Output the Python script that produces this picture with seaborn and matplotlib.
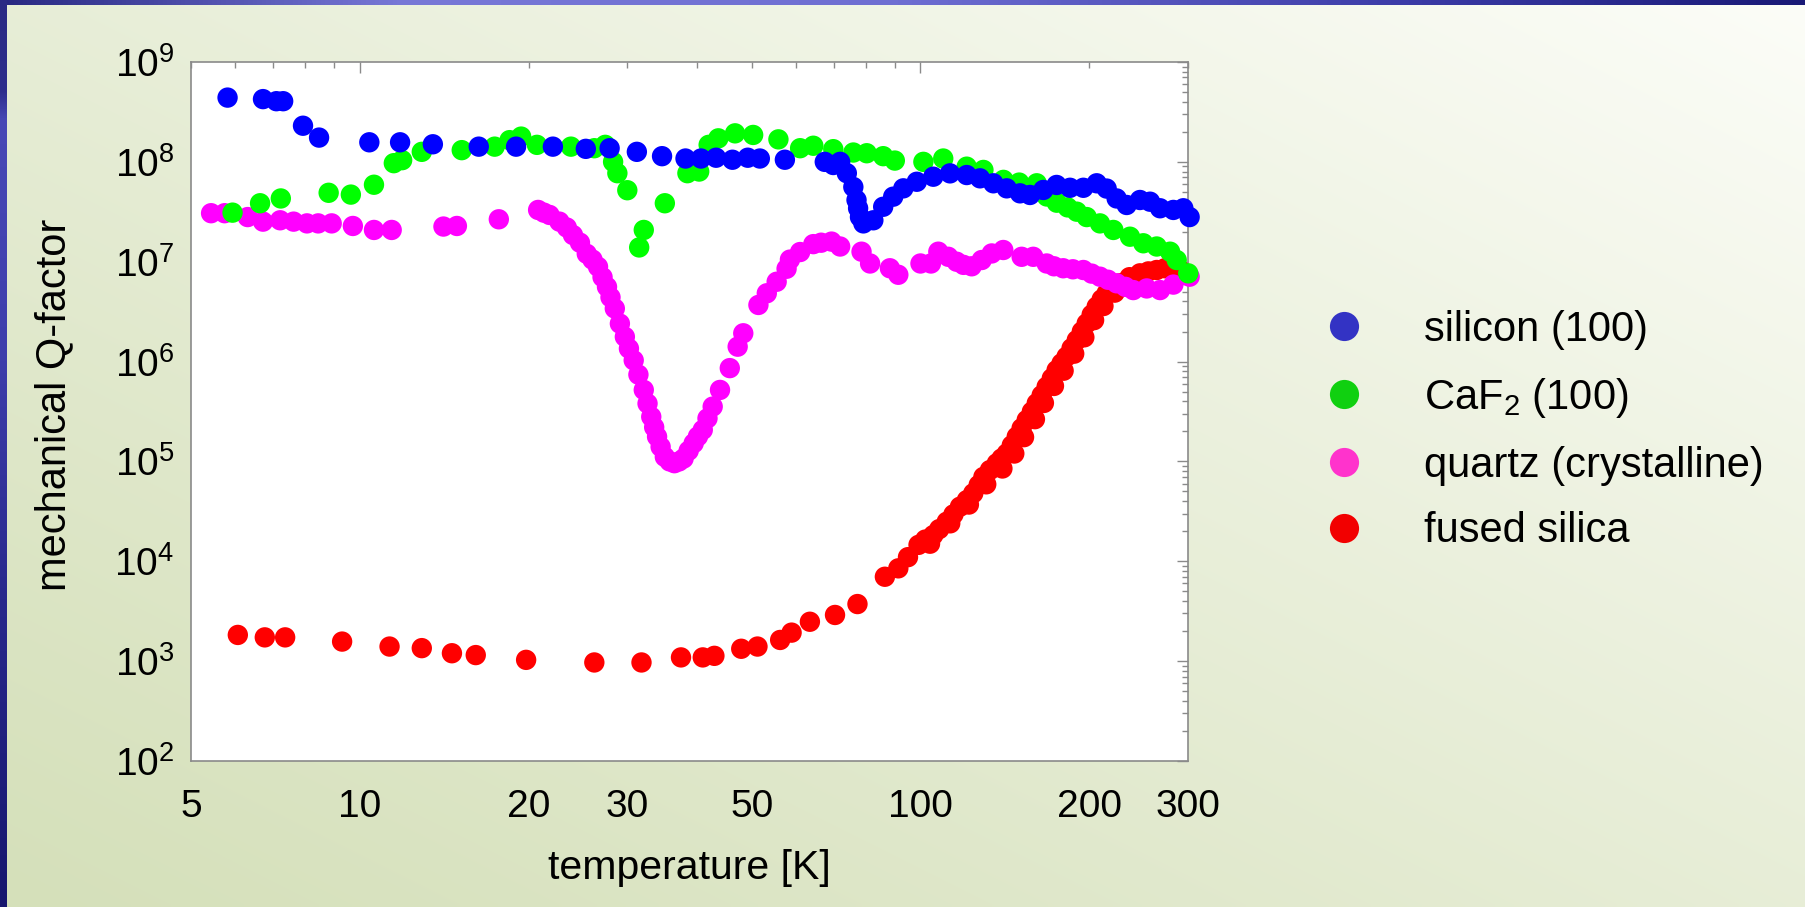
import numpy as np
import pandas as pd
import matplotlib
matplotlib.use("Agg")
import matplotlib.pyplot as plt
import seaborn as sns
from matplotlib.lines import Line2D
from matplotlib.ticker import LogLocator, FuncFormatter, NullFormatter

# ---------------------------------------------------------------------------
# Mechanical Q-factor versus temperature for four test-mass materials
# ---------------------------------------------------------------------------
materials = ["silicon (100)", r"CaF$_\mathdefault{2}$ (100)",
             "quartz (crystalline)", "fused silica"]

silicon_T = [5.81, 6.72, 7.10, 7.30, 7.92, 8.46, 10.4, 11.8, 13.5, 16.3, 19.0,
             22.1, 25.3, 27.9, 31.2, 34.6, 38.1, 40.6, 43.2, 46.2, 49.2, 51.7,
             57.3, 67.5, 69.9, 71.9, 73.9, 75.9, 76.9, 77.4, 78.0, 79.1, 82.4,
             85.8, 89.4, 93.2, 98.5, 105.4, 112.9, 120.9, 127.7, 134.9, 142.5,
             150.5, 156.8, 165.6, 174.9, 184.8, 195.2, 206.2, 214.8, 223.8,
             233.2, 246.3, 256.7, 267.5, 282.5, 294.3, 302.0]
silicon_Q = [4.4e8, 4.25e8, 4.05e8, 4.05e8, 2.3e8, 1.75e8, 1.57e8, 1.57e8,
             1.5e8, 1.42e8, 1.42e8, 1.42e8, 1.35e8, 1.37e8, 1.26e8, 1.14e8,
             1.08e8, 1.08e8, 1.10e8, 1.05e8, 1.10e8, 1.08e8, 1.05e8, 1.0e8,
             9.3e7, 1.0e8, 7.7e7, 5.6e7, 4.15e7, 3.43e7, 2.8e7, 2.42e7, 2.6e7,
             3.55e7, 4.48e7, 5.43e7, 6.32e7, 7.1e7, 7.67e7, 7.38e7, 6.84e7,
             6.1e7, 5.43e7, 4.84e7, 4.66e7, 5.23e7, 5.87e7, 5.5e7, 5.5e7,
             6.1e7, 5.4e7, 4.3e7, 3.7e7, 4.15e7, 3.99e7, 3.43e7, 3.3e7,
             3.43e7, 2.8e7]

caf2_T = [5.93, 6.64, 7.23, 8.80, 9.64, 10.6, 11.5, 11.9, 12.9, 15.2, 17.4,
          18.5, 19.4, 20.7, 23.8, 26.2, 27.4, 28.3, 28.8, 30.0, 31.5, 32.1,
          35.0, 38.4, 40.3, 41.9, 43.6, 46.7, 50.3, 55.8, 61.0, 64.4, 69.9,
          75.9, 80.2, 85.8, 90.0, 101.2, 109.8, 120.9, 129.5, 140.6, 150.0,
          161.2, 168.0, 175.0, 183.0, 190.0, 197.9, 209.0, 220.8, 236.4,
          249.7, 263.8, 278.7, 286.4, 300.3]
caf2_Q = [3.1e7, 3.85e7, 4.3e7, 4.9e7, 4.7e7, 5.9e7, 9.7e7, 1.04e8, 1.26e8,
          1.31e8, 1.42e8, 1.65e8, 1.79e8, 1.48e8, 1.42e8, 1.37e8, 1.48e8,
          1.0e8, 7.7e7, 5.2e7, 1.39e7, 2.08e7, 3.85e7, 7.7e7, 8.0e7, 1.48e8,
          1.72e8, 1.93e8, 1.86e8, 1.68e8, 1.37e8, 1.45e8, 1.34e8, 1.24e8,
          1.22e8, 1.14e8, 1.03e8, 1.0e8, 1.08e8, 8.95e7, 8.3e7, 6.6e7, 6.2e7,
          6.1e7, 4.5e7, 3.9e7, 3.5e7, 3.17e7, 2.8e7, 2.42e7, 2.08e7, 1.78e7,
          1.53e7, 1.42e7, 1.26e7, 1.04e7, 7.65e6]

quartz_T = [5.43, 5.74, 6.31, 6.72, 7.21, 7.62, 8.05, 8.43, 8.91, 9.72, 10.6,
            11.4, 14.1, 14.9, 17.7, 20.8, 21.3, 21.8, 22.7, 23.4, 24.0, 24.7,
            25.4, 26.0, 26.6, 27.1, 27.6, 28.0, 28.5, 29.1, 29.7, 30.2, 30.8,
            31.4, 32.1, 32.6, 33.1, 33.5, 33.9, 34.4, 35.0, 35.7, 36.4, 37.1,
            37.8, 38.6, 39.4, 40.1, 40.9, 41.7, 42.6, 43.9, 45.7, 47.2, 48.3,
            51.4, 53.2, 55.4, 57.7, 58.5, 61.0, 64.4, 66.5, 69.4, 71.9, 78.5,
            81.3, 88.2, 91.3, 100.0, 104.4, 107.6, 112.1, 116.0, 119.3, 123.4,
            128.6, 134.0, 140.5, 151.5, 158.9, 167.9, 173.0, 179.7, 187.0,
            195.2, 202.0, 209.0, 216.0, 223.8, 232.0, 239.6, 253.2, 267.5,
            282.5, 302.0]
quartz_Q = [3.06e7, 3.06e7, 2.8e7, 2.52e7, 2.6e7, 2.52e7, 2.42e7, 2.42e7,
            2.42e7, 2.28e7, 2.08e7, 2.08e7, 2.25e7, 2.28e7, 2.66e7, 3.3e7,
            3.1e7, 2.94e7, 2.52e7, 2.2e7, 1.85e7, 1.55e7, 1.2e7, 1.05e7, 8.9e6,
            7.0e6, 5.6e6, 4.4e6, 3.4e6, 2.4e6, 1.77e6, 1.35e6, 1.03e6, 7.4e5,
            5.2e5, 3.8e5, 2.8e5, 2.2e5, 1.77e5, 1.4e5, 1.11e5, 1.0e5, 9.6e4,
            1.0e5, 1.07e5, 1.28e5, 1.52e5, 1.78e5, 2.07e5, 2.7e5, 3.54e5,
            5.2e5, 8.6e5, 1.41e6, 1.92e6, 3.69e6, 4.83e6, 6.3e6, 8.5e6, 1.05e7,
            1.25e7, 1.5e7, 1.55e7, 1.59e7, 1.42e7, 1.26e7, 9.6e6, 8.6e6, 7.4e6,
            9.6e6, 9.6e6, 1.26e7, 1.12e7, 1.0e7, 9.3e6, 9.0e6, 1.04e7, 1.21e7,
            1.31e7, 1.12e7, 1.12e7, 9.6e6, 9.0e6, 8.6e6, 8.4e6, 8.26e6, 7.6e6,
            7.08e6, 6.6e6, 6.08e6, 5.6e6, 5.2e6, 5.4e6, 5.2e6, 5.9e6, 7.08e6]

# fused silica: main run plus a second, slightly lower run above 100 K
fused_T = [6.06, 6.77, 7.36, 9.30, 11.3, 12.9, 14.6, 16.1, 19.8, 26.2, 31.8,
           37.4, 40.9, 42.9, 47.9, 51.2, 56.2, 58.9, 63.5, 70.4, 77.2, 86.4,
           91.3, 95.0, 99.2, 102.0, 105.4, 108.0, 111.4, 114.5, 117.6, 121.0,
           124.2, 127.0, 129.5, 133.0, 136.8, 139.5, 142.5, 145.5, 148.5,
           151.5, 154.7, 158.0, 161.2, 164.5, 167.9, 171.5, 174.9, 178.5,
           182.2, 186.0, 190.0, 194.0, 197.9, 202.0, 206.2, 210.5, 214.8,
           220.0, 227.0, 236.0, 246.3, 255.0, 263.8, 272.9, 281.0, 290.0,
           104.0, 113.0, 122.0, 131.0, 140.0, 147.0, 153.0, 160.0, 166.0,
           173.0, 180.0, 188.0, 196.0, 204.0, 212.0, 222.0]
fused_Q = [1.83e3, 1.73e3, 1.73e3, 1.57e3, 1.40e3, 1.35e3, 1.20e3, 1.15e3,
           1.03e3, 0.97e3, 0.97e3, 1.09e3, 1.09e3, 1.13e3, 1.33e3, 1.40e3,
           1.63e3, 1.93e3, 2.48e3, 2.9e3, 3.73e3, 7.0e3, 8.5e3, 1.1e4, 1.46e4,
           1.65e4, 1.83e4, 2.1e4, 2.49e4, 2.95e4, 3.52e4, 4.1e4, 4.8e4, 5.8e4,
           7.0e4, 8.2e4, 9.57e4, 1.07e5, 1.2e5, 1.45e5, 1.77e5, 2.15e5, 2.6e5,
           3.15e5, 3.82e5, 4.6e5, 5.6e5, 6.8e5, 8.2e5, 9.6e5, 1.12e6, 1.36e6,
           1.64e6, 2.0e6, 2.41e6, 2.95e6, 3.55e6, 4.2e6, 4.83e6, 5.5e6, 6.08e6,
           7.0e6, 7.65e6, 8.0e6, 8.26e6, 8.6e6, 8.5e6, 8.3e6,
           1.5e4, 2.4e4, 3.7e4, 5.9e4, 8.5e4, 1.2e5, 1.75e5, 2.65e5, 3.85e5,
           5.7e5, 8.1e5, 1.2e6, 1.75e6, 2.6e6, 3.6e6, 4.9e6]

temp_ticks = [5, 10, 20, 30, 50, 100, 200, 300]

point_colors = ["#0000ff", "#00ff00", "#ff00ff", "#ff0000"]
legend_colors = ["#3333c4", "#10d010", "#ff33cc", "#f20000"]

# long-form table, drawn back to front: fused silica, quartz, CaF2, silicon
series = [(materials[3], fused_T, fused_Q),
          (materials[2], quartz_T, quartz_Q),
          (materials[1], caf2_T, caf2_Q),
          (materials[0], silicon_T, silicon_Q)]
df = pd.concat([pd.DataFrame({"temperature": t, "Q": q, "material": name})
                for name, t, q in series], ignore_index=True)
palette = dict(zip(materials, point_colors))

sns.set_theme(style="white")
plt.rcParams["font.family"] = ["Liberation Sans", "DejaVu Sans"]
plt.rcParams["mathtext.fontset"] = "custom"
plt.rcParams["mathtext.rm"] = "Liberation Sans"
plt.rcParams["mathtext.it"] = "Liberation Sans:italic"
plt.rcParams["mathtext.bf"] = "Liberation Sans:bold"
plt.rcParams["text.color"] = "black"

W, H = 1806, 907
fig = plt.figure(figsize=(W / 100, H / 100), dpi=100)

# slide background: pale green wash with a blue frame on the top and left
bg = fig.add_axes([0, 0, 1, 1], zorder=-10)
bg.axis("off")
gy, gx = np.mgrid[0:1:180j, 0:1:360j]
t = np.clip((gx + (1 - gy)) / 2, 0, 1) ** 1.1
c0 = np.array([213, 224, 186]) / 255
c1 = np.array([252, 253, 248]) / 255
wash = c0 + (c1 - c0) * t[..., None]
bg.imshow(wash, extent=(0, W, H, 0), aspect="auto", interpolation="bilinear")

top_x = [0, 400, 900, 1400, 1806]
top_c = np.array([[40, 40, 130], [120, 120, 215], [110, 110, 210],
                  [60, 60, 168], [25, 25, 118]]) / 255
xs = np.linspace(0, W, 400)
top_band = np.stack([np.interp(xs, top_x, top_c[:, k]) for k in range(3)], -1)
bg.imshow(top_band[None, :, :], extent=(0, W, 5, 0), aspect="auto")

left_y = [0, 90, 120, 350, 600, 907]
left_c = np.array([[42, 42, 132], [45, 45, 140], [72, 72, 182],
                   [62, 62, 172], [40, 40, 140], [22, 22, 110]]) / 255
ys = np.linspace(0, H, 400)
left_band = np.stack([np.interp(ys, left_y, left_c[:, k]) for k in range(3)], -1)
bg.imshow(left_band[:, None, :], extent=(0, 7, H, 0), aspect="auto")
bg.set_xlim(0, W)
bg.set_ylim(H, 0)

# main panel
ax = fig.add_axes([191 / W, 1 - 761 / H, 997 / W, 699 / H])
ax.set_facecolor("white")
sns.scatterplot(data=df, x="temperature", y="Q", hue="material",
                palette=palette, s=215, linewidth=0, alpha=1.0,
                legend=False, ax=ax, clip_on=False, zorder=3)
ax.set_xscale("log")
ax.set_yscale("log")
ax.set_xlim(5, 300)
ax.set_ylim(1e2, 1e9)

ax.xaxis.set_major_locator(LogLocator(base=10, numticks=10))
ax.xaxis.set_minor_locator(LogLocator(base=10, subs=np.arange(2, 10), numticks=10))
tick_fmt = FuncFormatter(
    lambda v, p: f"{v:g}" if any(np.isclose(v, tv) for tv in temp_ticks) else "")
ax.xaxis.set_major_formatter(tick_fmt)
ax.xaxis.set_minor_formatter(tick_fmt)
ax.yaxis.set_major_locator(LogLocator(base=10, numticks=20))
ax.yaxis.set_minor_locator(LogLocator(base=10, subs=np.arange(2, 10), numticks=20))
ax.yaxis.set_minor_formatter(NullFormatter())

ax.tick_params(axis="both", which="both", direction="in", top=True, right=True,
               color="#8a8a8a", labelcolor="black", labelsize=28, width=1.0)
ax.tick_params(which="major", length=8)
ax.tick_params(which="minor", length=4.5)
ax.tick_params(axis="x", which="both", pad=20)
ax.tick_params(axis="y", which="both", pad=12)
for sp in ax.spines.values():
    sp.set_color("#8a8a8a")
    sp.set_linewidth(1.2)
    sp.set_zorder(2)

ax.set_xlabel("temperature [K]", fontsize=29.5, color="black")
ax.set_ylabel("mechanical Q-factor", fontsize=30, color="black")
ax.xaxis.set_label_coords(0.5, -0.126)
ax.yaxis.set_label_coords(-0.117, 0.51)

handles = [Line2D([], [], ls="", marker="o", markersize=21, markeredgewidth=0,
                  color=c) for c in legend_colors]
ax.legend(handles, materials, loc="upper left",
          bbox_to_anchor=(1313 / W, 1 - 310 / H), bbox_transform=fig.transFigure,
          frameon=False, fontsize=30, handlelength=1.5, handletextpad=1.17,
          labelspacing=0.62, borderpad=0, borderaxespad=0, labelcolor="black")

fig.savefig("out.png", dpi=100)
